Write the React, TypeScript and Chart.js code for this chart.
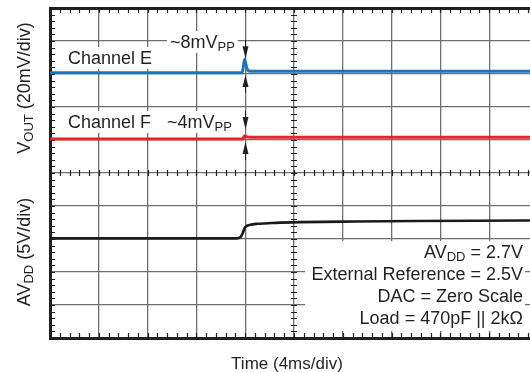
import React, { useEffect, useRef } from "react";
import { Chart, registerables } from "chart.js";

Chart.register(...registerables);

const FONT = '"Liberation Sans", Arial, Helvetica, sans-serif';
const BLUE = "#1b75bb";
const RED = "#e5232a";
const BLACK = "#1a1a1a";
const GRID = "#6e6e6e";
const FRAME = "#231f20";
const TEXT = "#231f20";

// Horizontal axis: time in ms (4 ms/div, 10 div). Vertical axis: screen divisions (0..10).
const timeMinMs = 0;
const timeMaxMs = 40;
const timeStepMs = 4;
const divMin = 0;
const divMax = 10;

// Channel E (VOUT, 20 mV/div), position in divisions
const channelETime = [0, 15.75, 15.88, 15.95, 16.05, 16.2, 16.45, 40];
const channelEDiv = [8.04, 8.04, 8.3, 8.44, 8.3, 8.12, 8.08, 8.08];

// Channel F (VOUT, 20 mV/div)
const channelFTime = [0, 15.8, 15.95, 16.1, 16.4, 40];
const channelFDiv = [6.03, 6.03, 6.13, 6.1, 6.08, 6.08];

// AVDD (5 V/div)
const avddTime = [0, 15.3, 15.6, 15.8, 15.95, 16.1, 16.4, 17.0, 18.5, 20.5, 25, 30, 35, 40];
const avddDiv = [3.02, 3.02, 3.05, 3.18, 3.33, 3.39, 3.43, 3.46, 3.49, 3.51, 3.53, 3.545, 3.555, 3.56];

// Peak-to-peak marker arrows (at the step instant)
const arrowTimeMs = 16;
const arrowDownTips = [8.48, 6.33];
const arrowUpTips = [7.97, 5.94];

const toPoints = (t: number[], v: number[]) => t.map((x, i) => ({ x, y: v[i] }));

type Seg = [string, boolean?];

function measure(ctx: CanvasRenderingContext2D, segs: Seg[], size: number, subSize: number) {
  return segs.map(([t, sub]) => {
    ctx.font = `${sub ? subSize : size}px ${FONT}`;
    return ctx.measureText(t).width;
  });
}

function drawRich(
  ctx: CanvasRenderingContext2D,
  segs: Seg[],
  x: number,
  y: number,
  align: "left" | "right" | "center",
  size = 18,
  subSize = 13
) {
  const widths = measure(ctx, segs, size, subSize);
  const total = widths.reduce((a, b) => a + b, 0);
  let cx = align === "left" ? x : align === "right" ? x - total : x - total / 2;
  const left = cx;
  ctx.textAlign = "left";
  ctx.textBaseline = "alphabetic";
  segs.forEach(([t, sub], i) => {
    ctx.font = `${sub ? subSize : size}px ${FONT}`;
    ctx.fillText(t, cx, y + (sub ? 3 : 0));
    cx += widths[i];
  });
  return { left, total };
}

const boxedLabels: { segs: Seg[]; x: number; y: number }[] = [
  { segs: [["Channel E"]], x: 68, y: 64 },
  { segs: [["~8mV"], ["PP", true]], x: 170, y: 48 },
  { segs: [["Channel F"]], x: 68, y: 128 },
  { segs: [["~4mV"], ["PP", true]], x: 167, y: 128 },
];

const noteLines: Seg[][] = [
  [["AV"], ["DD", true], [" = 2.7V"]],
  [["External Reference = 2.5V"]],
  [["DAC = Zero Scale"]],
  [["Load = 470pF || 2k\u03A9"]],
];

const decorPlugin = {
  id: "decor",
  beforeDatasetsDraw(chart: any) {
    const { ctx, chartArea } = chart;
    const xs = chart.scales.x;
    const ys = chart.scales.y;
    ctx.save();
    ctx.fillStyle = "#ffffff";
    // label backgrounds
    boxedLabels.forEach((l) => {
      const w = measure(ctx, l.segs, 18, 13).reduce((a, b) => a + b, 0);
      ctx.fillRect(l.x - 3, l.y - 17, w + 6, 22);
    });
    // notes background
    ctx.fillRect(305, 241, 220, 90);

    // minor ticks
    ctx.strokeStyle = FRAME;
    ctx.lineWidth = 1.2;
    ctx.beginPath();
    const xc = xs.getPixelForValue((timeMinMs + timeMaxMs) / 2);
    const yc = ys.getPixelForValue((divMin + divMax) / 2);
    for (let v = divMin; v <= divMax + 1e-9; v += 0.2) {
      const py = Math.round(ys.getPixelForValue(v)) + 0.5;
      ctx.moveTo(chartArea.left, py);
      ctx.lineTo(chartArea.left + 5, py);
      ctx.moveTo(xc - 3, py);
      ctx.lineTo(xc + 3, py);
    }
    for (let t = timeMinMs; t <= timeMaxMs + 1e-9; t += timeStepMs / 5) {
      const px = Math.round(xs.getPixelForValue(t)) + 0.5;
      ctx.moveTo(px, chartArea.top);
      ctx.lineTo(px, chartArea.top + 5);
      ctx.moveTo(px, chartArea.bottom);
      ctx.lineTo(px, chartArea.bottom - 5);
      ctx.moveTo(px, yc - 3);
      ctx.lineTo(px, yc + 3);
    }
    ctx.stroke();
    ctx.restore();
  },
  afterDatasetsDraw(chart: any) {
    const { ctx } = chart;
    const xs = chart.scales.x;
    const ys = chart.scales.y;
    const px = Math.round(xs.getPixelForValue(arrowTimeMs)) + 0.5;
    ctx.save();
    ctx.fillStyle = FRAME;
    ctx.strokeStyle = FRAME;
    ctx.lineWidth = 1;
    const head = (tipY: number, dir: number) => {
      ctx.beginPath();
      ctx.moveTo(px, tipY);
      ctx.lineTo(px - 3, tipY - dir * 12);
      ctx.lineTo(px + 3, tipY - dir * 12);
      ctx.closePath();
      ctx.fill();
      ctx.beginPath();
      ctx.moveTo(px, tipY - dir * 10);
      ctx.lineTo(px, tipY - dir * 18);
      ctx.stroke();
    };
    arrowDownTips.forEach((v) => head(ys.getPixelForValue(v), 1));
    arrowUpTips.forEach((v) => head(ys.getPixelForValue(v), -1));
    ctx.restore();
  },
  afterDraw(chart: any) {
    const { ctx } = chart;
    ctx.save();
    ctx.fillStyle = TEXT;
    boxedLabels.forEach((l) => drawRich(ctx, l.segs, l.x, l.y, "left"));
    const baselines = [258, 280, 302, 324];
    noteLines.forEach((segs, i) => drawRich(ctx, segs, 523, baselines[i], "right"));
    // x title
    drawRich(ctx, [["Time (4ms/div)"]], 287, 369, "center", 17);
    // y titles
    ctx.save();
    ctx.translate(30, 88);
    ctx.rotate(-Math.PI / 2);
    drawRich(ctx, [["V"], ["OUT", true], [" (20mV/div)"]], 0, 0, "center");
    ctx.restore();
    ctx.save();
    ctx.translate(30, 252);
    ctx.rotate(-Math.PI / 2);
    drawRich(ctx, [["AV"], ["DD", true], [" (5V/div)"]], 0, 0, "center");
    ctx.restore();
    ctx.restore();
  },
};

export default function App() {
  const ref = useRef<HTMLCanvasElement | null>(null);
  useEffect(() => {
    if (!ref.current) return;
    const chart = new Chart(ref.current, {
      type: "line",
      data: {
        datasets: [
          {
            label: "Channel E",
            data: toPoints(channelETime, channelEDiv),
            borderColor: BLUE,
            borderWidth: 3,
            pointRadius: 0,
            cubicInterpolationMode: "monotone",
          },
          {
            label: "Channel F",
            data: toPoints(channelFTime, channelFDiv),
            borderColor: RED,
            borderWidth: 3,
            pointRadius: 0,
            cubicInterpolationMode: "monotone",
          },
          {
            label: "AVDD",
            data: toPoints(avddTime, avddDiv),
            borderColor: BLACK,
            borderWidth: 2.6,
            pointRadius: 0,
            cubicInterpolationMode: "monotone",
          },
        ],
      },
      options: {
        responsive: false,
        animation: false,
        devicePixelRatio: 1,
        layout: { padding: { left: 50, top: 8, right: 7, bottom: 34 } },
        plugins: { legend: { display: false }, tooltip: { enabled: false }, title: { display: false } },
        scales: {
          x: {
            type: "linear",
            min: timeMinMs,
            max: timeMaxMs,
            ticks: { display: false, stepSize: timeStepMs },
            grid: { color: GRID, lineWidth: 1.3, drawTicks: false },
            border: { display: true, color: FRAME, width: 3 },
            afterFit: (s: any) => {
              s.height = 0;
            },
          },
          xTop: {
            type: "linear",
            axis: "x",
            position: "top",
            min: timeMinMs,
            max: timeMaxMs,
            ticks: { display: false, stepSize: timeStepMs },
            grid: { display: true, drawOnChartArea: false, drawTicks: false },
            border: { display: true, color: FRAME, width: 3 },
            afterFit: (s: any) => {
              s.height = 0;
            },
          },
          y: {
            type: "linear",
            min: divMin,
            max: divMax,
            ticks: { display: false, stepSize: 1 },
            grid: { color: GRID, lineWidth: 1.3, drawTicks: false },
            border: { display: true, color: FRAME, width: 3 },
            afterFit: (s: any) => {
              s.width = 0;
            },
          },
        },
      } as any,
      plugins: [decorPlugin],
    });
    return () => chart.destroy();
  }, []);
  return (
    <div
      style={{
        position: "fixed",
        left: 0,
        top: 0,
        width: 530,
        height: 372,
        overflow: "hidden",
        background: "#fff",
      }}
    >
      <canvas ref={ref} width={545} height={372} style={{ display: "block" }} />
    </div>
  );
}
